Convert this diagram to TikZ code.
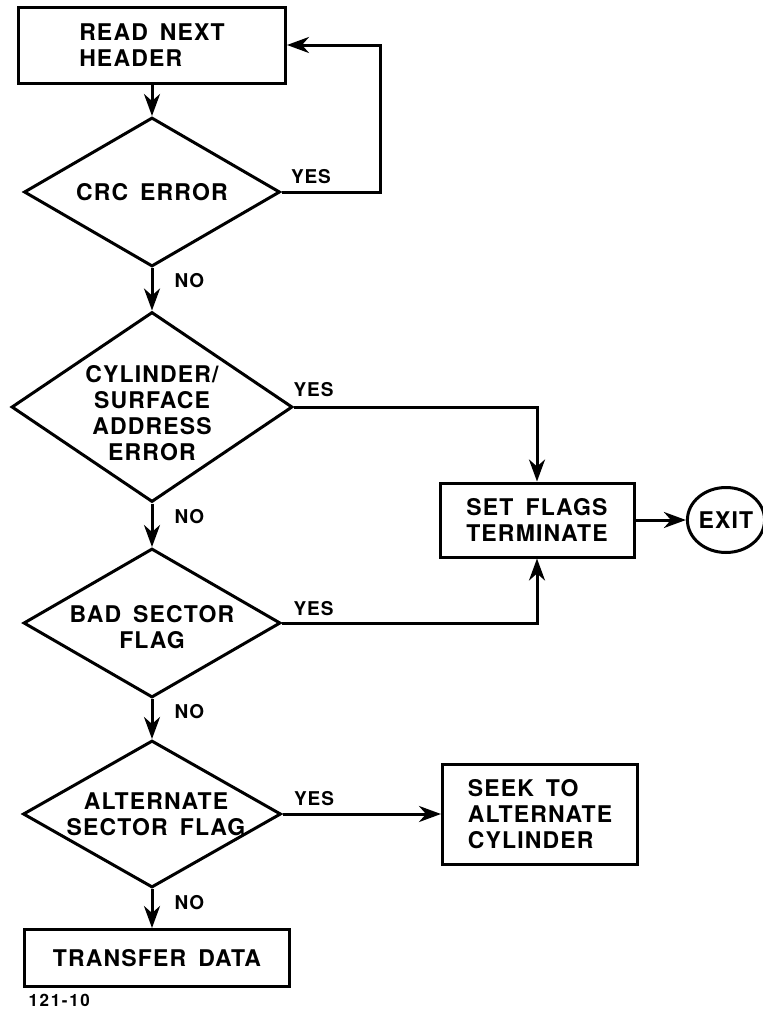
\documentclass[tikz,border=0pt]{standalone}
\usepackage{fontspec}
\setmainfont[LetterSpace=5,WordSpace=1.6]{TeX Gyre Heros}
\usetikzlibrary{shapes.geometric,arrows.meta}

\begin{document}
\begin{tikzpicture}[x=0.5pt, y=-0.5pt, line width=1.5pt,
  font=\fontsize{11.5}{13}\selectfont\bfseries,
  process/.style={draw, rectangle, inner sep=0pt},
  decision/.style={draw, diamond, inner sep=0pt},
  flow/.style={-{Stealth[length=11pt,width=8pt,inset=3.5pt]}},
  answer/.style={inner sep=0pt, font=\fontsize{9.5}{10}\selectfont\bfseries}]
\useasboundingbox (0,0) rectangle (763,1012);

% Read header
\node[process, minimum width=133.5pt, minimum height=38pt, align=left] (read) at (152,45) {READ NEXT\\HEADER};

% CRC check
\node[decision, minimum width=128pt, minimum height=74.5pt] (crc) at (152,192) {};
\node (crctxt) at (crc) {CRC ERROR};

% Cylinder / surface check
\node[decision, minimum width=140.5pt, minimum height=95pt] (cyl) at (152,407) {};
\node[align=center, yshift=-3pt] (cyltxt) at (cyl) {CYLINDER/\\SURFACE\\ADDRESS\\ERROR};

% Bad sector check
\node[decision, minimum width=128.5pt, minimum height=74.5pt] (bad) at (152,623) {};
\node[align=center, yshift=-2pt] (badtxt) at (bad) {BAD SECTOR\\FLAG};

% Alternate sector check
\node[decision, minimum width=129pt, minimum height=73.5pt] (alt) at (152,814) {};
\node[align=center, xshift=2pt] (alttxt) at (alt) {ALTERNATE\\SECTOR FLAG};

% Transfer data
\node[process, minimum width=132.5pt, minimum height=28.5pt] (xfer) at (157,958) {TRANSFER DATA};

% Set flags and exit
\node[process, minimum width=97pt, minimum height=37pt, align=center] (flags) at (537,520) {SET FLAGS\\TERMINATE};
\node[draw, ellipse, inner sep=0pt, minimum width=38pt, minimum height=32.5pt] (exit) at (726,520) {EXIT};

% Seek to alternate
\node[process, minimum width=97.5pt, minimum height=50pt, align=left] (seek) at (540,814) {SEEK TO\\ALTERNATE\\CYLINDER};

% Figure number
\node[anchor=south west, inner sep=0pt, font=\fontsize{8.5}{10}\selectfont\bfseries\addfontfeature{LetterSpace=10}] (fignum) at (27,1008) {121-10};

% Yes / No labels
\node[answer, anchor=south west] (yescrc) at ([shift={(4pt,3.5pt)}]crc.east) {YES};
\node[answer, anchor=south west] (yescyl) at ([shift={(-1pt,4.5pt)}]cyl.east) {YES};
\node[answer, anchor=south west] (yesbad) at ([shift={(5pt,3pt)}]bad.east) {YES};
\node[answer, anchor=south west] (yesalt) at ([shift={(5pt,3.5pt)}]alt.east) {YES};
\node[answer, anchor=north west] (nocrc) at ([shift={(10.5pt,-2pt)}]crc.south) {NO};
\node[answer, anchor=north west] (nocyl) at ([shift={(10.5pt,-2pt)}]cyl.south) {NO};
\node[answer, anchor=north west] (nobad) at ([shift={(10.5pt,-2pt)}]bad.south) {NO};
\node[answer, anchor=north west] (noalt) at ([shift={(10.5pt,-2.5pt)}]alt.south) {NO};

% Arrows
\coordinate (loop) at (380,45);
\draw[flow] (read) -- (crc);
\draw[flow] (crc.east) -| (loop) -- (read.east);
\draw[flow] (crc) -- (cyl);
\draw[flow] (cyl) -- (bad);
\draw[flow] (bad) -- (alt);
\draw[flow] (alt.south) -- (alt.south |- xfer.north);
\draw[flow] (cyl.east) -| (flags.north);
\draw[flow] (bad.east) -| (flags.south);
\draw[flow] (flags) -- (exit);
\draw[flow] (alt) -- (seek);
\end{tikzpicture}
\end{document}
